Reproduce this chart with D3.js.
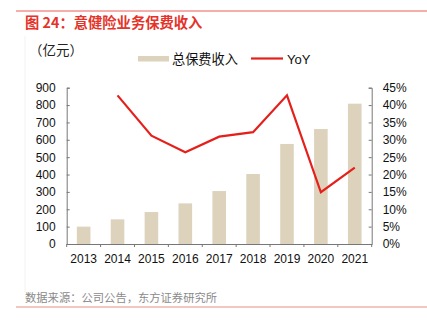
<!DOCTYPE html>
<html><head><meta charset="utf-8">
<script src="https://cdn.jsdelivr.net/npm/d3@7/dist/d3.min.js"></script>
<style>body{margin:0;background:#fff}svg{display:block}</style>
</head><body><svg id="c" width="427" height="322"></svg>
<script>
const years = ["2013","2014","2015","2016","2017","2018","2019","2020","2021"];
const premium = [100,142,184,234,305,403,576,662,808];
const yoyYears = ["2014","2015","2016","2017","2018","2019","2020","2021"];
const yoy = [42.8,31.2,26.4,30.9,32.2,42.8,14.9,22.0];
const leftTicks = [0,100,200,300,400,500,600,700,800,900];
const rightTicks = [0,5,10,15,20,25,30,35,40,45];

const svg = d3.select("#c");
const font = "'Liberation Sans', Arial, 'Noto Sans CJK SC', sans-serif";
const cjk = "'Noto Sans CJK SC', sans-serif";
const L = 66.7, R = 371.7, T = 87.7, B = 244;

// frame lines
svg.append("line").attr("x1",16).attr("x2",427).attr("y1",11).attr("y2",11).attr("stroke","#e5332a").attr("stroke-width",0.8);
svg.append("line").attr("x1",16).attr("x2",427).attr("y1",307).attr("y2",307).attr("stroke","#e98b84").attr("stroke-width",1);
svg.append("line").attr("x1",25).attr("x2",25).attr("y1",36).attr("y2",292).attr("stroke","#f2f2f2").attr("stroke-width",1);

svg.append("text").attr("x",25).attr("y",28).attr("fill","#e5332a").attr("font-family",cjk)
  .attr("font-weight","bold").attr("font-size",14.3).text("图 24：意健险业务保费收入");
svg.append("text").attr("x",29).attr("y",55).attr("fill","#222").attr("font-family",cjk)
  .attr("font-size",13.5).text("（亿元）");
svg.append("text").attr("x",25).attr("y",302).attr("fill","#8a8a8a").attr("font-family",cjk)
  .attr("font-size",11.3).text("数据来源：公司公告，东方证券研究所");

const xb = d3.scaleBand().domain(years).range([L,R]);
const y = d3.scaleLinear().domain([0,900]).range([B,T]);
const y2 = d3.scaleLinear().domain([0,45]).range([B,T]);

// bars
svg.append("g").selectAll("rect").data(premium).join("rect")
  .attr("x",(d,i)=>xb(years[i])+xb.bandwidth()/2-6.8).attr("width",13.6)
  .attr("y",d=>y(d)).attr("height",d=>B-y(d)).attr("fill","#ddd3bc");

// line
const line = d3.line().x((d,i)=>xb(yoyYears[i])+xb.bandwidth()/2).y(d=>y2(d));
svg.append("path").datum(yoy).attr("d",line).attr("fill","none").attr("stroke","#e5201b").attr("stroke-width",2.2);

// axes
const axColor = "#777";
const gx = svg.append("g").attr("transform",`translate(0,${B})`)
  .call(d3.axisBottom(xb).tickSize(0).tickPadding(10));
gx.select(".domain").attr("stroke",axColor);
gx.selectAll("text").attr("font-family",font).attr("font-size",12).attr("fill","#111");
svg.append("g").selectAll("line").data(d3.range(years.length+1)).join("line")
  .attr("x1",i=>L+i*xb.step()).attr("x2",i=>L+i*xb.step()).attr("y1",B).attr("y2",B+3)
  .attr("stroke",axColor);

const gl = svg.append("g").attr("transform",`translate(${L},0)`)
  .call(d3.axisLeft(y).tickValues(leftTicks).tickSize(-3).tickPadding(11));
gl.select(".domain").attr("stroke",axColor);
gl.selectAll(".tick line").attr("stroke",axColor);
gl.selectAll("text").attr("font-family",font).attr("font-size",12).attr("fill","#111");

const gr = svg.append("g").attr("transform",`translate(${R},0)`)
  .call(d3.axisRight(y2).tickValues(rightTicks).tickFormat(d=>d+"%").tickSize(-3).tickPadding(11));
gr.select(".domain").attr("stroke",axColor);
gr.selectAll(".tick line").attr("stroke",axColor);
gr.selectAll("text").attr("font-family",font).attr("font-size",12).attr("fill","#111");

// legend
svg.append("rect").attr("x",138).attr("y",56).attr("width",31).attr("height",5.5).attr("fill","#ddd3bc");
svg.append("text").attr("x",172).attr("y",63.5).attr("font-family",cjk).attr("font-size",13.2).attr("fill","#111").text("总保费收入");
svg.append("line").attr("x1",251).attr("x2",283).attr("y1",58.5).attr("y2",58.5).attr("stroke","#e5201b").attr("stroke-width",2.2);
svg.append("text").attr("x",287).attr("y",63.5).attr("font-family",font).attr("font-size",13).attr("fill","#111").text("YoY");
</script></body></html>
